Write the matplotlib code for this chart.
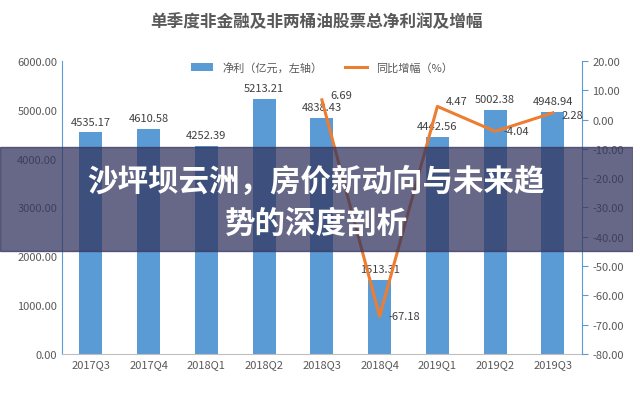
import matplotlib
matplotlib.use("Agg")
import matplotlib.pyplot as plt
import numpy as np

plt.rcParams["font.family"] = ["Noto Sans CJK SC", "DejaVu Sans"]

quarters = ["2017Q3","2017Q4","2018Q1","2018Q2","2018Q3","2018Q4","2019Q1","2019Q2","2019Q3"]
profit = [4535.17, 4610.58, 4252.39, 5213.21, 4838.43, 1513.31, 4442.56, 5002.38, 4948.94]
growth_q = ["2018Q3","2018Q4","2019Q1","2019Q2","2019Q3"]
growth = [6.69, -67.18, 4.47, -4.04, 2.28]

fig = plt.figure(figsize=(6.33, 4.02), dpi=100)
ax = fig.add_axes([0.098, 0.117, 0.821, 0.729])
x = np.arange(len(quarters))
ax.bar(x, profit, width=0.4, color="#5B9BD5", label="净利（亿元，左轴）")
for xi, v in zip(x, profit):
    ax.text(xi, v + 120, f"{v:.2f}", ha="center", va="bottom", fontsize=8, color="#404040")
ax.set_ylim(0, 6000)
ax.set_yticks(np.arange(0, 6001, 1000))
ax.set_yticklabels([f"{t:.2f}" for t in np.arange(0, 6001, 1000)], fontsize=8, color="#595959")
ax.set_xticks(x)
ax.set_xticklabels(quarters, fontsize=8, color="#595959")
ax.set_xlim(-0.5, len(quarters) - 0.5)
for s in ["top", "right"]:
    ax.spines[s].set_visible(False)
ax.spines["left"].set_color("#5B9BD5")
ax.spines["bottom"].set_color("#BFBFBF")
ax.tick_params(length=0)

ax2 = ax.twinx()
gx = [quarters.index(q) for q in growth_q]
ax2.plot(gx, growth, color="#ED7D31", lw=2.2, label="同比增幅（%）")
offs = [0, 0, 0, 0, -2.5]
for xi, v, o in zip(gx, growth, offs):
    ax2.text(xi + 0.15, v + o, f"{v:.2f}", ha="left", va="bottom" if v > 0 else "center", fontsize=8, color="#404040")
ax2.set_ylim(-80, 20)
ax2.set_yticks(np.arange(-80, 21, 10))
ax2.set_yticklabels([f"{t:.2f}" for t in np.arange(-80, 21, 10)], fontsize=8, color="#595959")
for s in ["top", "left", "bottom"]:
    ax2.spines[s].set_visible(False)
ax2.spines["right"].set_color("#5B9BD5")
ax2.tick_params(axis="y", direction="out", length=4, color="#5B9BD5")

h1, l1 = ax.get_legend_handles_labels()
h2, l2 = ax2.get_legend_handles_labels()
ax.legend(h1 + h2, l1 + l2, loc="upper center", bbox_to_anchor=(0.5, 1.03), ncol=2, frameon=False, fontsize=8, labelcolor="#595959")

fig.text(0.5, 0.945, "单季度非金融及非两桶油股票总净利润及增幅", ha="center", va="center", fontsize=12, fontweight="bold", color="#595959")

fig.patches.append(plt.Rectangle((0, 0.373), 1, 0.259, transform=fig.transFigure, color="#34365F", alpha=0.75, zorder=10))
fig.text(0.5, 0.548, "沙坪坝云洲，房价新动向与未来趋", ha="center", va="center", fontsize=22, fontweight="bold", color="white", zorder=11)
fig.text(0.5, 0.443, "势的深度剖析", ha="center", va="center", fontsize=22, fontweight="bold", color="white", zorder=11)

fig.savefig("out.png", dpi=100)
